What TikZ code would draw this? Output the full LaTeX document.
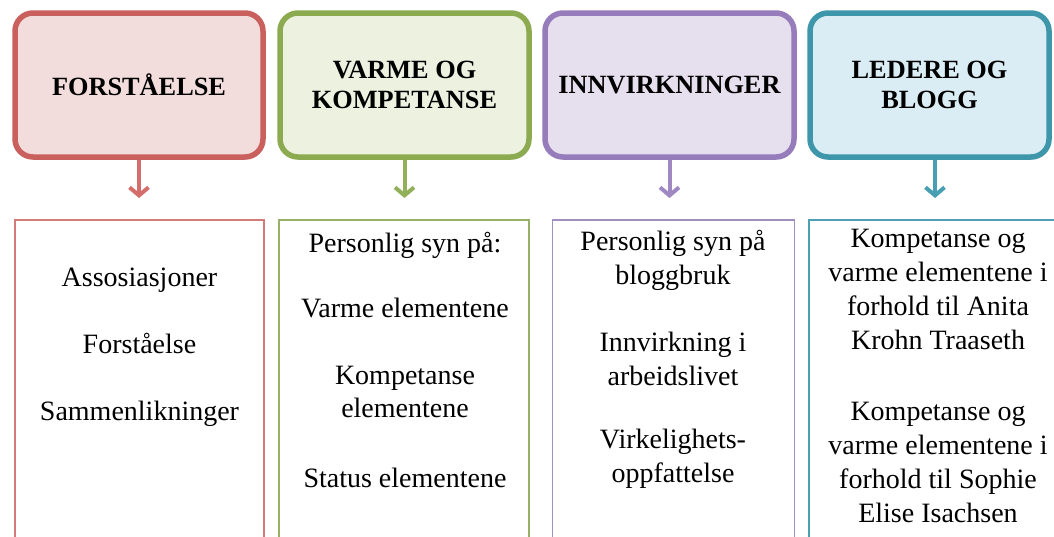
\documentclass[tikz,border=0pt]{standalone}
\usepackage{fontspec}
\setmainfont{Liberation Serif}
\usetikzlibrary{arrows.meta,shadows}
\definecolor{redB}{RGB}{202,96,93}
\definecolor{redF}{RGB}{242,221,220}
\definecolor{redL}{RGB}{212,122,120}
\definecolor{redA}{RGB}{212,110,108}
\definecolor{grnB}{RGB}{140,170,80}
\definecolor{grnF}{RGB}{236,241,224}
\definecolor{grnL}{RGB}{150,176,104}
\definecolor{grnA}{RGB}{146,176,90}
\definecolor{purB}{RGB}{150,124,186}
\definecolor{purF}{RGB}{230,224,238}
\definecolor{purL}{RGB}{162,142,192}
\definecolor{purA}{RGB}{160,136,194}
\definecolor{tealB}{RGB}{62,150,170}
\definecolor{tealF}{RGB}{219,237,244}
\definecolor{tealL}{RGB}{78,160,180}
\definecolor{tealA}{RGB}{72,158,178}
\begin{document}
\begin{tikzpicture}[x=1pt,y=-1pt,
  topbox/.style={draw, line width=5.5pt, rounded corners=18pt,
    minimum width=248pt, minimum height=144pt, inner sep=0pt,
    align=center, font=\fontsize{26.3}{30}\selectfont\bfseries,
    drop shadow={opacity=0.25, shadow xshift=1.5pt, shadow yshift=-2.5pt}},
  botbox/.style={draw, line width=1.8pt, fill=white, anchor=north,
    minimum width=250pt, minimum height=360pt, inner sep=0pt},
  bodytext/.style={align=center, anchor=base, inner sep=0pt,
    font=\fontsize{28}{33.5}\selectfont},
  arr/.style={line width=4pt, -{Straight Barb[length=8pt,width=19pt]}, shorten >=21pt}]
\useasboundingbox (0,0) rectangle (1054,536);
\clip (0,0) rectangle (1054,536);
\fill[white] (0,0) rectangle (1054,536);

% top boxes
\node[topbox, draw=redB, fill=redF] (t1) at (139,85) {FORSTÅELSE};
\node[topbox, draw=grnB, fill=grnF, minimum width=249pt] (t2) at (404.5,85) {VARME OG\\KOMPETANSE};
\node[topbox, draw=purB, fill=purF, minimum width=249pt] (t3) at (669.5,85) {INNVIRKNINGER};
\node[topbox, draw=tealB, fill=tealF, minimum width=239pt] (t4) at (929.5,85) {LEDERE OG\\BLOGG};

% bottom boxes
\node[botbox, draw=redL, minimum width=249pt] (b1) at (139.5,219) {};
\node[botbox, draw=grnL] (b2) at (404,219) {};
\node[botbox, draw=purL, minimum width=242pt] (b3) at (673.5,219) {};
\node[botbox, draw=tealL, minimum width=252pt] (b4) at (935,219) {};

% arrows
\draw[arr, redA] (t1.south) -- (t1.south |- b1.north);
\draw[arr, grnA] (t2.south) -- (t2.south |- b2.north);
\draw[arr, purA] (t3.south) -- (t3.south |- b3.north);
\draw[arr, tealA] (t4.south -| b4.north) -- (b4.north);

% body texts (anchor base = baseline of the last line)
\node[bodytext] (x1) at (139.5,420) {Assosiasjoner\\[33.5pt]Forståelse\\[33.5pt]Sammenlikninger};
\node[bodytext] (x2) at (405,487) {Personlig syn på:\\[32pt]Varme elementene\\[33pt]Kompetanse\\elementene\\[36pt]Status elementene};
\node[bodytext] (x3) at (673,482) {Personlig syn på\\bloggbruk\\[34pt]Innvirkning i\\arbeidslivet\\[30pt]Virkelighets-\\oppfattelse};
\node[bodytext, font=\fontsize{28}{34}\selectfont] (x4) at (938,522) {Kompetanse og\\varme elementene i\\forhold til Anita\\Krohn Traaseth\\[37pt]Kompetanse og\\varme elementene i\\forhold til Sophie\\Elise Isachsen};
\end{tikzpicture}
\end{document}
